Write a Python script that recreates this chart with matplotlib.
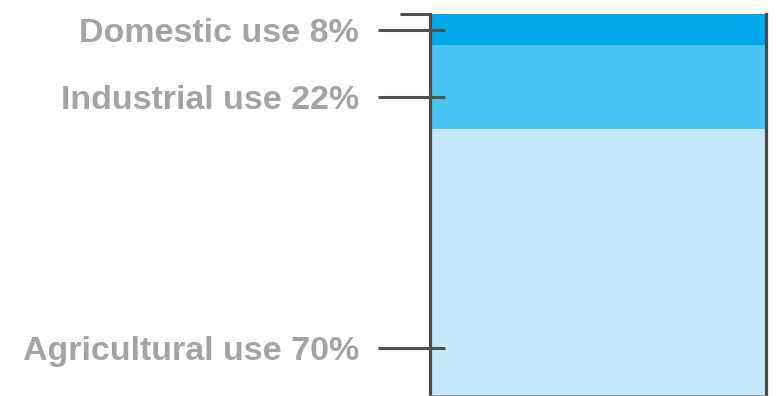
import matplotlib
matplotlib.use("Agg")
import matplotlib.pyplot as plt
import matplotlib.transforms as mtransforms

# Share of water withdrawal by use, stacked from the bottom of the glass
categories = ["Agricultural use", "Industrial use", "Domestic use"]
shares = [70, 22, 8]
colors = ["#C5E8F8", "#4AC4F2", "#00A9EC"]
tick_labels = ["Agricultural use 70%", "Industrial use 22%", "Domestic use 8%"]

W, H = 783, 396
fig = plt.figure(figsize=(W / 100, H / 100), dpi=100)
ax = fig.add_axes([430 / W, 0, (766 - 430) / W, (396 - 14) / H])

bottom = 0
for cat, val, col in zip(categories, shares, colors):
    ax.bar(0.5, val, width=1.0, bottom=bottom, color=col, linewidth=0, label=cat)
    bottom += val

ax.set_xlim(0, 1)
ax.set_ylim(0, 100)
ax.set_xticks([])

wall = "#4a4a4a"
for side in ("left", "right"):
    ax.spines[side].set_color(wall)
    ax.spines[side].set_linewidth(2.3)
ax.spines["top"].set_visible(False)
ax.spines["bottom"].set_color("#8a8a8a")
ax.spines["bottom"].set_linewidth(1.2)

# label positions along the glass wall
label_pos = [12.5, 78.3, 95.8]
ax.set_yticks(label_pos)
ax.set_yticklabels(tick_labels, fontfamily="Liberation Sans", fontweight="bold",
                   fontsize=24.5, color="#A4A4A4")
ax.tick_params(axis="y", length=0, pad=51)

# tick marks crossing the wall
trans = mtransforms.blended_transform_factory(ax.transAxes, ax.transData)
axw = 766 - 430
ax.hlines(label_pos, -52 / axw, 15 / axw, colors="#505050", linewidth=2.2,
          transform=trans, clip_on=False, zorder=5)

# rim of the glass on the left
ax.hlines([100], -30 / axw, 0, colors="#505050", linewidth=2.2,
          transform=trans, clip_on=False, zorder=5)

fig.savefig("out.png", dpi=100)
